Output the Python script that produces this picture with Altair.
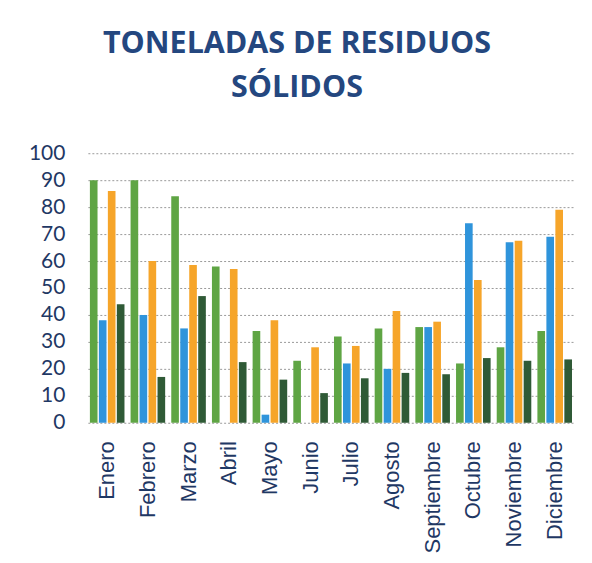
import altair as alt
import pandas as pd

months = ["Enero", "Febrero", "Marzo", "Abril", "Mayo", "Junio", "Julio",
          "Agosto", "Septiembre", "Octubre", "Noviembre", "Diciembre"]
series = ["S1", "S2", "S3", "S4"]
s1 = [90, 90, 84, 58, 34, 23, 32, 35, 35.5, 22, 28, 34]
s2 = [38, 40, 35, 0, 3, 0, 22, 20, 35.5, 74, 67, 69]
s3 = [86, 60, 58.5, 57, 38, 28, 28.5, 41.5, 37.5, 53, 67.5, 79]
s4 = [44, 17, 47, 22.5, 16, 11, 16.5, 18.5, 18, 24, 23, 23.5]
colors = ["#5fa544", "#2f94db", "#f6a52a", "#2f5a36"]

rows = []
for name, vals in zip(series, [s1, s2, s3, s4]):
    for m, v in zip(months, vals):
        rows.append({"mes": m, "serie": name, "valor": v})
df = pd.DataFrame(rows)

chart = alt.Chart(df).mark_bar().encode(
    x=alt.X("mes:N", sort=months, title=None,
            scale=alt.Scale(paddingInner=0.15, paddingOuter=0.05),
            axis=alt.Axis(labelAngle=-90, labelFont="Liberation Sans", labelFontSize=22,
                          labelColor="#1f3864", ticks=False, domain=False,
                          labelPadding=18)),
    xOffset=alt.XOffset("serie:N", sort=series, scale=alt.Scale(paddingInner=0.15)),
    y=alt.Y("valor:Q", title=None,
            scale=alt.Scale(domain=[0, 100]),
            axis=alt.Axis(values=list(range(0, 101, 10)), labelFont="Lato",
                          labelFontSize=21, labelColor="#1f3864", ticks=False,
                          domain=False, labelPadding=23, gridDash=[2, 2],
                          gridColor="#9a9a9a", gridWidth=1)),
    color=alt.Color("serie:N", sort=series, legend=None,
                    scale=alt.Scale(domain=series, range=colors)),
).properties(
    width=487, height=270,
    title=alt.TitleParams(["TONELADAS DE RESIDUOS", "SÓLIDOS"], font="Open Sans",
                          fontSize=30.5, fontWeight="bold", color="#24477f",
                          lineHeight=44, offset=39, dx=-34, anchor="middle"),
    autosize=alt.AutoSizeParams(type="none"),
    padding={"left": 80, "top": 145, "right": 10, "bottom": 135},
).configure_view(stroke=None).configure_axisX(
    domain=True, domainColor="#bbbbbb"
)

chart.save("out.html", embed_options={"renderer": "svg", "actions": False})
